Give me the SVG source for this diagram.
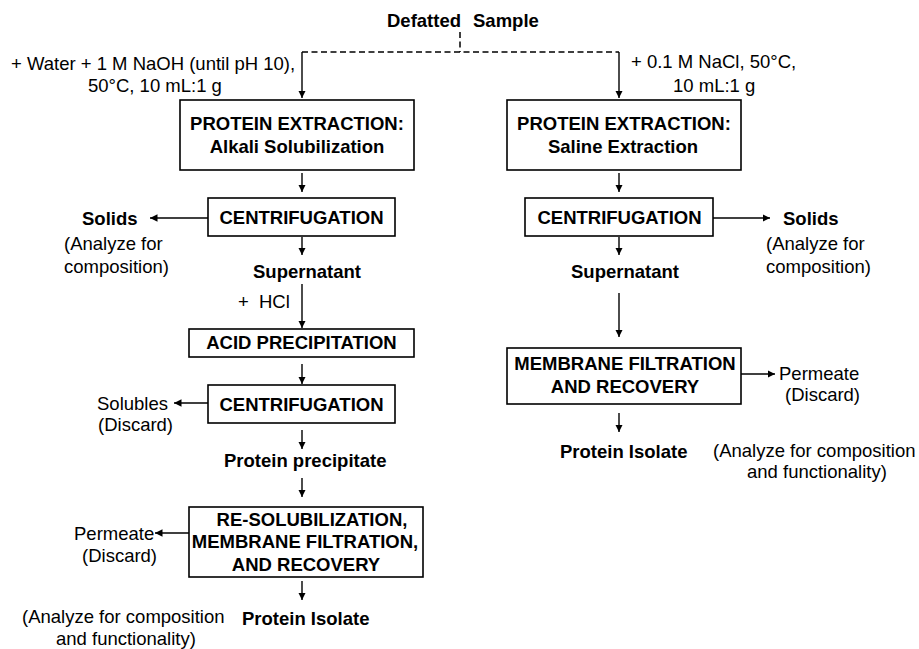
<svg xmlns="http://www.w3.org/2000/svg" width="919" height="649" viewBox="0 0 919 649">
<defs>
<style>
text{font-family:"Liberation Sans",Arial,sans-serif;font-size:18.5px;fill:#000}
.b{font-weight:bold}
.m{text-anchor:middle}
.box{fill:#fff;stroke:#000;stroke-width:1.6}
.ln{fill:none;stroke:#000;stroke-width:1.4}
.ar{marker-end:url(#ah)}
.dash{fill:none;stroke:#000;stroke-width:1.5;stroke-dasharray:6,3.5}
</style>
<marker id="ah" markerUnits="userSpaceOnUse" markerWidth="8" markerHeight="8" refX="7.5" refY="3.75" orient="auto">
<path d="M0,0 L7.5,3.75 L0,7.5 z" fill="#000"/>
</marker>
</defs>
<rect width="919" height="649" fill="#fff"/>

<g id="connectors">
<path class="dash" d="M302,52 H619 M460,32 V52"/>
<path class="ln ar" d="M302,52 V98"/>
<path class="ln ar" d="M619,52 V98"/>
<path class="ln ar" d="M302,173 V192"/>
<path class="ln ar" d="M208,218 H150"/>
<path class="ln ar" d="M302,237 V255"/>
<path class="ln ar" d="M302,284 V328"/>
<path class="ln ar" d="M302,364 V384"/>
<path class="ln ar" d="M208,403 H174"/>
<path class="ln ar" d="M302,430 V449"/>
<path class="ln ar" d="M302,478 V497"/>
<path class="ln ar" d="M189,533 H155"/>
<path class="ln ar" d="M302,581 V600"/>
<path class="ln ar" d="M619,173 V192"/>
<path class="ln ar" d="M713,218 H770"/>
<path class="ln ar" d="M619,237 V255"/>
<path class="ln ar" d="M619,293 V337"/>
<path class="ln ar" d="M741,374 H775"/>
<path class="ln ar" d="M619,413 V432"/>
</g>

<g id="start">
<text class="b" x="387" y="27">Defatted<tspan x="473">Sample</tspan></text>
</g>
<g id="alkali-conditions">
<text x="11" y="70">+ Water + 1 M NaOH (until pH 10),</text>
<text x="88" y="92">50°C, 10 mL:1 g</text>
</g>
<g id="saline-conditions">
<text x="631" y="68">+ 0.1 M NaCl, 50°C,</text>
<text x="673" y="92">10 mL:1 g</text>
</g>

<g id="alkali-extraction">
<rect class="box" x="180" y="100" width="234" height="70"/>
<text class="b m" x="297" y="130">PROTEIN EXTRACTION:</text>
<text class="b m" x="297" y="153">Alkali Solubilization</text>
</g>
<g id="centrifugation-left">
<rect class="box" x="208" y="198" width="187" height="38"/>
<text class="b m" x="301.5" y="224">CENTRIFUGATION</text>
</g>
<g id="solids-left">
<text class="b" x="82" y="225">Solids</text>
<text x="64" y="250">(Analyze for</text>
<text x="64" y="273">composition)</text>
</g>
<g id="supernatant-left">
<text class="b" x="253" y="278">Supernatant</text>
<text x="238" y="308">+<tspan x="259">HCl</tspan></text>
</g>
<g id="acid-precipitation">
<rect class="box" x="189" y="329" width="225" height="28"/>
<text class="b m" x="301.5" y="349">ACID PRECIPITATION</text>
</g>
<g id="centrifugation-left-2">
<rect class="box" x="208" y="385" width="187" height="38"/>
<text class="b m" x="301.5" y="411">CENTRIFUGATION</text>
</g>
<g id="solubles">
<text x="97" y="410">Solubles</text>
<text x="98" y="431">(Discard)</text>
</g>
<g id="protein-precipitate">
<text class="b" x="224" y="467">Protein precipitate</text>
</g>
<g id="resolubilization">
<rect class="box" x="189" y="507" width="234" height="70"/>
<text class="b m" x="312" y="526">RE-SOLUBILIZATION,</text>
<text class="b m" x="305" y="548">MEMBRANE FILTRATION,</text>
<text class="b m" x="306" y="571">AND RECOVERY</text>
</g>
<g id="permeate-left">
<text x="74" y="540">Permeate</text>
<text x="82" y="562">(Discard)</text>
</g>
<g id="isolate-left">
<text class="b" x="242" y="625">Protein Isolate</text>
<text x="22" y="623">(Analyze for composition</text>
<text x="56" y="645">and functionality)</text>
</g>

<g id="saline-extraction">
<rect class="box" x="507" y="100" width="234" height="70"/>
<text class="b m" x="624" y="130">PROTEIN EXTRACTION:</text>
<text class="b m" x="623" y="153">Saline Extraction</text>
</g>
<g id="centrifugation-right">
<rect class="box" x="525" y="198" width="188" height="38"/>
<text class="b m" x="619.5" y="224">CENTRIFUGATION</text>
</g>
<g id="solids-right">
<text class="b" x="783" y="225">Solids</text>
<text x="766" y="250">(Analyze for</text>
<text x="766" y="273">composition)</text>
</g>
<g id="supernatant-right">
<text class="b" x="571" y="278">Supernatant</text>
</g>
<g id="membrane-filtration">
<rect class="box" x="507" y="348" width="234" height="56"/>
<text class="b m" x="625" y="370">MEMBRANE FILTRATION</text>
<text class="b m" x="625" y="393">AND RECOVERY</text>
</g>
<g id="permeate-right">
<text x="779" y="380">Permeate</text>
<text x="785" y="401">(Discard)</text>
</g>
<g id="isolate-right">
<text class="b" x="560" y="458">Protein Isolate</text>
<text x="713" y="457">(Analyze for composition</text>
<text x="747" y="478">and functionality)</text>
</g>
</svg>
